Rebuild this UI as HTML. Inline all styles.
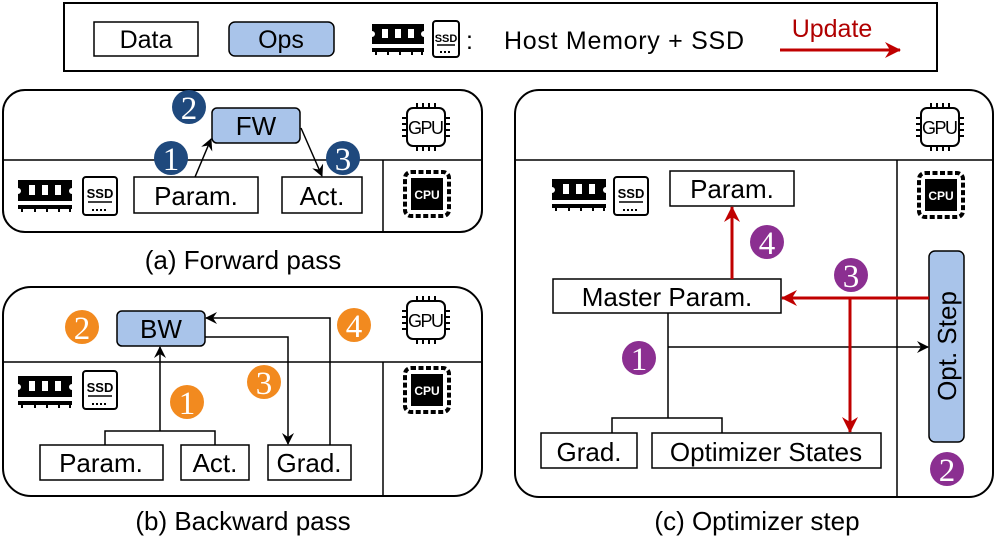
<!DOCTYPE html>
<html><head><meta charset="utf-8"><style>
html,body{margin:0;padding:0;background:#fff;}
svg{display:block;font-family:"Liberation Sans",Arial,sans-serif;}
</style></head><body>
<svg width="996" height="553" viewBox="0 0 996 553" xmlns="http://www.w3.org/2000/svg">
<defs>
<marker id="ab" markerWidth="12" markerHeight="12" refX="11" refY="6" orient="auto" markerUnits="userSpaceOnUse"><path d="M0,0 L12,6 L0,12 L4,6 Z" fill="#000"/></marker>
<marker id="ar" markerWidth="16" markerHeight="16" refX="15" refY="8" orient="auto" markerUnits="userSpaceOnUse"><path d="M0,0 L16,8 L0,16 L5,8 Z" fill="#c00000"/></marker>
</defs>

<!-- Legend -->
<rect x="64" y="3" width="873" height="68" fill="#fff" stroke="#000" stroke-width="2"/>
<rect x="94" y="22" width="104" height="34" fill="#fff" stroke="#000" stroke-width="1.5"/>
<text x="146" y="48" font-size="25" text-anchor="middle">Data</text>
<rect x="229" y="22" width="105" height="34" rx="6" fill="#a9c4ea" stroke="#000" stroke-width="1.5"/>
<text x="281" y="48" font-size="25" text-anchor="middle">Ops</text>
<g transform="translate(372,24)">
 <path d="M0,0 H52 V7 A3,3 0 0 0 52,13 V20 H0 V13 A3,3 0 0 0 0,7 Z" fill="#000"/>
 <rect x="10" y="5" width="6" height="9" fill="#fff"/><rect x="23" y="5" width="6" height="9" fill="#fff"/><rect x="36" y="5" width="6" height="9" fill="#fff"/>
 <rect x="0" y="24" width="52" height="4" fill="#000"/>
 <rect x="3" y="28" width="2" height="3" fill="#000"/><rect x="15" y="28" width="2" height="3" fill="#000"/><rect x="27" y="28" width="2" height="3" fill="#000"/><rect x="39" y="28" width="2" height="3" fill="#000"/><rect x="49" y="28" width="2" height="3" fill="#000"/>
</g>
<g transform="translate(432,20)">
 <rect x="1" y="1" width="26" height="36" rx="3" fill="#fff" stroke="#000" stroke-width="2"/>
 <text x="14" y="22" font-size="11" font-weight="bold" text-anchor="middle">SSD</text>
 <line x1="5" y1="25" x2="23" y2="25" stroke="#000" stroke-width="1.5"/>
 <line x1="8" y1="32" x2="20" y2="32" stroke="#000" stroke-width="2" stroke-dasharray="2,2"/>
</g>
<text x="466" y="49" font-size="25">:</text>
<text x="504" y="49" font-size="25" textLength="240">Host Memory + SSD</text>
<text x="832" y="37" font-size="25" fill="#b00000" text-anchor="middle">Update</text>
<line x1="780" y1="50" x2="900" y2="50" stroke="#c00000" stroke-width="3" marker-end="url(#ar)"/>

<!-- Panel a -->
<rect x="3" y="90" width="479" height="142" rx="22" fill="#fff" stroke="#000" stroke-width="2"/>
<line x1="3" y1="160" x2="482" y2="160" stroke="#000" stroke-width="1.5"/>
<line x1="383" y1="160" x2="383" y2="232" stroke="#000" stroke-width="1.5"/>
<rect x="212" y="108" width="88" height="35" rx="5" fill="#a9c4ea" stroke="#000" stroke-width="1.5"/>
<text x="256" y="135" font-size="26" text-anchor="middle">FW</text>
<rect x="134" y="177" width="124" height="36" fill="#fff" stroke="#000" stroke-width="1.5"/>
<text x="196" y="205" font-size="26" text-anchor="middle">Param.</text>
<rect x="282" y="177" width="80" height="36" fill="#fff" stroke="#000" stroke-width="1.5"/>
<text x="322" y="205" font-size="26" text-anchor="middle">Act.</text>
<line x1="195" y1="177" x2="211" y2="139" stroke="#000" stroke-width="1.5" marker-end="url(#ab)"/>
<line x1="301" y1="128" x2="322" y2="176" stroke="#000" stroke-width="1.5" marker-end="url(#ab)"/>
<circle cx="171" cy="158" r="17" fill="#1f497d"/><text x="171" y="170" font-size="33" fill="#fff" text-anchor="middle" font-family="Liberation Serif,serif">1</text>
<circle cx="189" cy="107" r="17" fill="#1f497d"/><text x="189" y="119" font-size="33" fill="#fff" text-anchor="middle" font-family="Liberation Serif,serif">2</text>
<circle cx="343" cy="158" r="17" fill="#1f497d"/><text x="343" y="170" font-size="33" fill="#fff" text-anchor="middle" font-family="Liberation Serif,serif">3</text>

<!-- Panel b -->
<rect x="3" y="287" width="479" height="209" rx="28" fill="#fff" stroke="#000" stroke-width="2"/>
<line x1="3" y1="362" x2="482" y2="362" stroke="#000" stroke-width="1.5"/>
<line x1="383" y1="362" x2="383" y2="496" stroke="#000" stroke-width="1.5"/>
<rect x="117" y="311" width="88" height="35" rx="5" fill="#a9c4ea" stroke="#000" stroke-width="1.5"/>
<text x="161" y="338" font-size="26" text-anchor="middle">BW</text>
<rect x="40" y="445" width="123" height="35" fill="#fff" stroke="#000" stroke-width="1.5"/>
<text x="101" y="472" font-size="26" text-anchor="middle">Param.</text>
<rect x="181" y="445" width="68" height="35" fill="#fff" stroke="#000" stroke-width="1.5"/>
<text x="215" y="472" font-size="26" text-anchor="middle">Act.</text>
<rect x="268" y="445" width="83" height="35" fill="#fff" stroke="#000" stroke-width="1.5"/>
<text x="309" y="472" font-size="26" text-anchor="middle">Grad.</text>
<polyline points="105,445 105,431 215,431 215,445" fill="none" stroke="#000" stroke-width="1.5"/>
<line x1="160" y1="431" x2="160" y2="347" stroke="#000" stroke-width="1.5" marker-end="url(#ab)"/>
<polyline points="205,337 288,337 288,444" fill="none" stroke="#000" stroke-width="1.5" marker-end="url(#ab)"/>
<polyline points="330,445 330,318 206,318" fill="none" stroke="#000" stroke-width="1.5" marker-end="url(#ab)"/>
<circle cx="82" cy="327" r="17" fill="#f28a1f"/><text x="82" y="339" font-size="33" fill="#fff" text-anchor="middle" font-family="Liberation Serif,serif">2</text>
<circle cx="187" cy="402" r="17" fill="#f28a1f"/><text x="187" y="414" font-size="33" fill="#fff" text-anchor="middle" font-family="Liberation Serif,serif">1</text>
<circle cx="264" cy="382" r="17" fill="#f28a1f"/><text x="264" y="394" font-size="33" fill="#fff" text-anchor="middle" font-family="Liberation Serif,serif">3</text>
<circle cx="354" cy="325" r="17" fill="#f28a1f"/><text x="354" y="337" font-size="33" fill="#fff" text-anchor="middle" font-family="Liberation Serif,serif">4</text>

<!-- Panel c -->
<rect x="515" y="90" width="478" height="407" rx="24" fill="#fff" stroke="#000" stroke-width="2"/>
<line x1="515" y1="160" x2="993" y2="160" stroke="#000" stroke-width="1.5"/>
<line x1="897" y1="160" x2="897" y2="497" stroke="#000" stroke-width="1.5"/>
<rect x="670" y="171" width="124" height="35" fill="#fff" stroke="#000" stroke-width="1.5"/>
<text x="732" y="198" font-size="26" text-anchor="middle">Param.</text>
<rect x="553" y="279" width="228" height="34" fill="#fff" stroke="#000" stroke-width="1.5"/>
<text x="667" y="306" font-size="26" text-anchor="middle">Master Param.</text>
<rect x="541" y="433" width="96" height="35" fill="#fff" stroke="#000" stroke-width="1.5"/>
<text x="589" y="461" font-size="26" text-anchor="middle">Grad.</text>
<rect x="652" y="433" width="229" height="35" fill="#fff" stroke="#000" stroke-width="1.5"/>
<text x="766" y="461" font-size="26" text-anchor="middle">Optimizer States</text>
<rect x="929" y="251" width="35" height="191" rx="6" fill="#a9c4ea" stroke="#000" stroke-width="1.5"/>
<text transform="translate(956,346) rotate(-90)" font-size="26" text-anchor="middle">Opt. Step</text>
<line x1="668" y1="313" x2="668" y2="418" stroke="#000" stroke-width="1.5"/>
<polyline points="612,433 612,418 722,418 722,433" fill="none" stroke="#000" stroke-width="1.5"/>
<line x1="668" y1="347" x2="928" y2="347" stroke="#000" stroke-width="1.5" marker-end="url(#ab)"/>
<line x1="929" y1="298" x2="782" y2="298" stroke="#c00000" stroke-width="3" marker-end="url(#ar)"/>
<line x1="850" y1="298" x2="850" y2="432" stroke="#c00000" stroke-width="3" marker-end="url(#ar)"/>
<line x1="732" y1="279" x2="732" y2="207" stroke="#c00000" stroke-width="3" marker-end="url(#ar)"/>
<circle cx="639" cy="358" r="17" fill="#8b2f91"/><text x="639" y="370" font-size="33" fill="#fff" text-anchor="middle" font-family="Liberation Serif,serif">1</text>
<circle cx="947" cy="469" r="17" fill="#8b2f91"/><text x="947" y="481" font-size="33" fill="#fff" text-anchor="middle" font-family="Liberation Serif,serif">2</text>
<circle cx="851" cy="275" r="17" fill="#8b2f91"/><text x="851" y="287" font-size="33" fill="#fff" text-anchor="middle" font-family="Liberation Serif,serif">3</text>
<circle cx="767" cy="242" r="17" fill="#8b2f91"/><text x="767" y="254" font-size="33" fill="#fff" text-anchor="middle" font-family="Liberation Serif,serif">4</text>

<!-- RAM + SSD icons -->
<g transform="translate(18,180)">
 <path d="M0,0 H54 V8 A3,3 0 0 0 54,14 V21 H0 V14 A3,3 0 0 0 0,8 Z" fill="#000"/>
 <rect x="11" y="5" width="6" height="10" fill="#fff"/><rect x="24" y="5" width="6" height="10" fill="#fff"/><rect x="37" y="5" width="6" height="10" fill="#fff"/>
 <rect x="0" y="25" width="54" height="4" fill="#000"/>
 <rect x="3" y="29" width="2" height="3"/><rect x="16" y="29" width="2" height="3"/><rect x="28" y="29" width="2" height="3"/><rect x="40" y="29" width="2" height="3"/><rect x="51" y="29" width="2" height="3"/>
</g>
<g transform="translate(82,176)">
 <rect x="1" y="1" width="34" height="38" rx="3" fill="#fff" stroke="#000" stroke-width="2"/>
 <text x="18" y="22" font-size="13" font-weight="bold" text-anchor="middle">SSD</text>
 <line x1="6" y1="26" x2="30" y2="26" stroke="#000" stroke-width="1.5"/>
 <line x1="10" y1="34" x2="26" y2="34" stroke="#000" stroke-width="2" stroke-dasharray="2,2"/>
</g>
<g transform="translate(18,376)">
 <path d="M0,0 H54 V8 A3,3 0 0 0 54,14 V21 H0 V14 A3,3 0 0 0 0,8 Z" fill="#000"/>
 <rect x="11" y="5" width="6" height="10" fill="#fff"/><rect x="24" y="5" width="6" height="10" fill="#fff"/><rect x="37" y="5" width="6" height="10" fill="#fff"/>
 <rect x="0" y="25" width="54" height="4" fill="#000"/>
 <rect x="3" y="29" width="2" height="3"/><rect x="16" y="29" width="2" height="3"/><rect x="28" y="29" width="2" height="3"/><rect x="40" y="29" width="2" height="3"/><rect x="51" y="29" width="2" height="3"/>
</g>
<g transform="translate(82,370)">
 <rect x="1" y="1" width="34" height="38" rx="3" fill="#fff" stroke="#000" stroke-width="2"/>
 <text x="18" y="22" font-size="13" font-weight="bold" text-anchor="middle">SSD</text>
 <line x1="6" y1="26" x2="30" y2="26" stroke="#000" stroke-width="1.5"/>
 <line x1="10" y1="34" x2="26" y2="34" stroke="#000" stroke-width="2" stroke-dasharray="2,2"/>
</g>
<g transform="translate(552,179)">
 <path d="M0,0 H54 V8 A3,3 0 0 0 54,14 V21 H0 V14 A3,3 0 0 0 0,8 Z" fill="#000"/>
 <rect x="11" y="5" width="6" height="10" fill="#fff"/><rect x="24" y="5" width="6" height="10" fill="#fff"/><rect x="37" y="5" width="6" height="10" fill="#fff"/>
 <rect x="0" y="25" width="54" height="4" fill="#000"/>
 <rect x="3" y="29" width="2" height="3"/><rect x="16" y="29" width="2" height="3"/><rect x="28" y="29" width="2" height="3"/><rect x="40" y="29" width="2" height="3"/><rect x="51" y="29" width="2" height="3"/>
</g>
<g transform="translate(613,176)">
 <rect x="1" y="1" width="34" height="38" rx="3" fill="#fff" stroke="#000" stroke-width="2"/>
 <text x="18" y="22" font-size="13" font-weight="bold" text-anchor="middle">SSD</text>
 <line x1="6" y1="26" x2="30" y2="26" stroke="#000" stroke-width="1.5"/>
 <line x1="10" y1="34" x2="26" y2="34" stroke="#000" stroke-width="2" stroke-dasharray="2,2"/>
</g>

<!-- GPU icons -->
<g transform="translate(426,127)" stroke="#000" stroke-width="2" fill="none">
 <rect x="-19" y="-19" width="38" height="38" rx="6" fill="#fff"/>
 <path d="M-9,-19 V-24 M-3,-19 V-24 M3,-19 V-24 M9,-19 V-24 M-9,19 V24 M-3,19 V24 M3,19 V24 M9,19 V24 M-19,-9 H-24 M-19,-3 H-24 M-19,3 H-24 M-19,9 H-24 M19,-9 H24 M19,-3 H24 M19,3 H24 M19,9 H24"/>
</g>
<text x="426" y="134" font-size="18" text-anchor="middle" textLength="36">GPU</text>
<g transform="translate(426,320)" stroke="#000" stroke-width="2" fill="none">
 <rect x="-19" y="-19" width="38" height="38" rx="6" fill="#fff"/>
 <path d="M-9,-19 V-24 M-3,-19 V-24 M3,-19 V-24 M9,-19 V-24 M-9,19 V24 M-3,19 V24 M3,19 V24 M9,19 V24 M-19,-9 H-24 M-19,-3 H-24 M-19,3 H-24 M-19,9 H-24 M19,-9 H24 M19,-3 H24 M19,3 H24 M19,9 H24"/>
</g>
<text x="426" y="327" font-size="18" text-anchor="middle" textLength="36">GPU</text>
<g transform="translate(940,127)" stroke="#000" stroke-width="2" fill="none">
 <rect x="-19" y="-19" width="38" height="38" rx="6" fill="#fff"/>
 <path d="M-9,-19 V-24 M-3,-19 V-24 M3,-19 V-24 M9,-19 V-24 M-9,19 V24 M-3,19 V24 M3,19 V24 M9,19 V24 M-19,-9 H-24 M-19,-3 H-24 M-19,3 H-24 M-19,9 H-24 M19,-9 H24 M19,-3 H24 M19,3 H24 M19,9 H24"/>
</g>
<text x="940" y="134" font-size="18" text-anchor="middle" textLength="36">GPU</text>

<!-- CPU icons -->
<g transform="translate(427,194)">
 <rect x="-22" y="-22" width="44" height="44" rx="6" fill="#fff" stroke="#000" stroke-width="4" stroke-dasharray="5,2.5"/>
 <rect x="-16" y="-16" width="32" height="32" fill="#000"/>
 <text x="0" y="5" font-size="12" font-weight="bold" fill="#fff" text-anchor="middle">CPU</text>
</g>
<g transform="translate(427,390)">
 <rect x="-22" y="-22" width="44" height="44" rx="6" fill="#fff" stroke="#000" stroke-width="4" stroke-dasharray="5,2.5"/>
 <rect x="-16" y="-16" width="32" height="32" fill="#000"/>
 <text x="0" y="5" font-size="12" font-weight="bold" fill="#fff" text-anchor="middle">CPU</text>
</g>
<g transform="translate(941,195)">
 <rect x="-22" y="-22" width="44" height="44" rx="6" fill="#fff" stroke="#000" stroke-width="4" stroke-dasharray="5,2.5"/>
 <rect x="-16" y="-16" width="32" height="32" fill="#000"/>
 <text x="0" y="5" font-size="12" font-weight="bold" fill="#fff" text-anchor="middle">CPU</text>
</g>

<!-- captions -->
<text x="243" y="269" font-size="26" text-anchor="middle">(a) Forward pass</text>
<text x="243" y="530" font-size="26" text-anchor="middle">(b) Backward pass</text>
<text x="757" y="530" font-size="26" text-anchor="middle">(c) Optimizer step</text>
</svg>
</body></html>
